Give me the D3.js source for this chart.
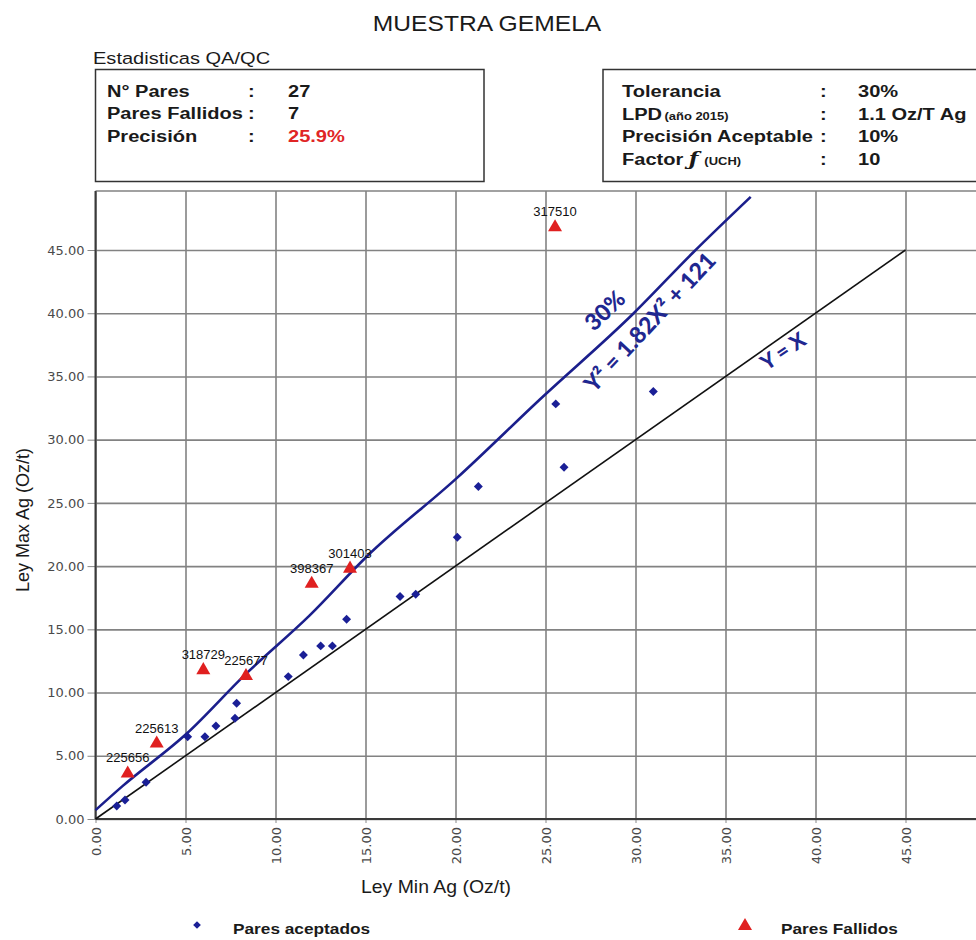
<!DOCTYPE html>
<html>
<head>
<meta charset="utf-8">
<script src="https://cdn.jsdelivr.net/npm/d3@7"></script>
<style>
body { margin: 0; background: #fff; }
svg { display: block; font-family: "Liberation Sans", Arial, sans-serif; }
.axis .tick text { font-family: "DejaVu Sans", sans-serif; font-size: 13px; fill: #4a4a4a; }
.axis .tick line { stroke: #888; }
.grid line { stroke: #828282; stroke-width: 1.6; }
.grid .domain { display: none; }
</style>
</head>
<body>
<div id="chart"></div>
<script>
// pares aceptados (ley min, ley max)
var accMin = [1.18, 1.64, 2.81, 5.12, 6.08, 6.69, 7.75, 7.84, 10.71, 11.55, 12.51, 13.16, 13.95, 16.92, 17.79, 20.10, 21.27, 25.57, 26.03, 30.99];
var accMax = [1.03, 1.50, 2.90, 6.51, 6.51, 7.36, 7.97, 9.15, 11.26, 12.97, 13.69, 13.69, 15.80, 17.59, 17.78, 22.29, 26.29, 32.83, 27.82, 33.81];

// pares fallidos
var failIds = ["225656", "225613", "318729", "225677", "398367", "301403", "317510"];
var failMin = [1.79, 3.40, 5.99, 8.36, 12.01, 14.14, 25.53];
var failMax = [3.60, 5.97, 11.77, 11.31, 18.60, 19.80, 46.80];

// curva de tolerancia 30%
var tolMin = [0, 1.5, 5.1, 8.3, 11.9, 15.1, 20.1, 24.7, 29.9, 33.2, 36.4];
var tolMax = [0.7, 2.6, 6.8, 11.4, 16.1, 20.8, 27.0, 33.2, 40.0, 44.8, 49.2];

// Y = X
var idMin = [0, 45];
var idMax = [0, 45];

var xTicks = [0, 5, 10, 15, 20, 25, 30, 35, 40, 45];
var yTicks = [0, 5, 10, 15, 20, 25, 30, 35, 40, 45];

var statLabels = ["N° Pares", "Pares Fallidos", "Precisión"];
var statValues = ["27", "7", "25.9%"];
var paramValues = ["30%", "1.1 Oz/T Ag", "10%", "10"];

var W = 976, H = 940;
var plotLeft = 95.5, plotRight = 976, plotTop = 191, plotBottom = 819;
var SX = 1.18; // texto de cabecera algo ensanchado

var svg = d3.select("#chart").append("svg")
	.attr("width", W)
	.attr("height", H);

svg.append("rect").attr("width", W).attr("height", H).attr("fill", "#fff");

var x = d3.scaleLinear().domain([0, 45]).range([plotLeft, 905.5]);
var y = d3.scaleLinear().domain([0, 45]).range([plotBottom, 250]);
var fmt = d3.format(".2f");

function hText(g, px, py, str, size, weight, sx){
	return g.append("text")
		.attr("transform", "translate(" + px + "," + py + ") scale(" + sx + ",1)")
		.style("font-size", size + "px")
		.style("font-weight", weight)
		.attr("fill", "#1a1a1a")
		.text(str);
}

// titulo
hText(svg, 487, 31, "MUESTRA GEMELA", 22, "normal", 1.12).attr("text-anchor", "middle");

// cuadro de estadisticas
hText(svg, 93, 64, "Estadisticas QA/QC", 17, "normal", SX);
svg.append("rect")
	.attr("x", 95.5).attr("y", 69.5).attr("width", 388.5).attr("height", 112)
	.attr("fill", "none").attr("stroke", "#333").attr("stroke-width", 1.5);

var statY = [97, 119, 141.5];
statLabels.forEach(function(d, i){
	hText(svg, 107, statY[i], d, 17, "bold", SX);
	hText(svg, 248, statY[i], ":", 17, "bold", SX);
	var t = hText(svg, 288, statY[i], statValues[i], 17, "bold", SX);
	if(i == 2) t.attr("fill", "#e02525");
});

// cuadro de parametros
svg.append("rect")
	.attr("x", 603).attr("y", 69.5).attr("width", 390).attr("height", 112)
	.attr("fill", "none").attr("stroke", "#333").attr("stroke-width", 1.5);

var parY = [97, 119.5, 142, 164.5];
hText(svg, 622, parY[0], "Tolerancia", 17, "bold", SX);
var lpd = hText(svg, 622, parY[1], "LPD", 17, "bold", SX);
lpd.append("tspan").style("font-size", "11px").attr("dx", 2).text("(año 2015)");
hText(svg, 622, parY[2], "Precisión Aceptable", 17, "bold", SX);
var fac = hText(svg, 622, parY[3], "Factor ", 17, "bold", SX);
fac.append("tspan").style("font-family", "'DejaVu Serif', serif").style("font-style", "italic")
	.style("font-size", "19px").text("ƒ");
fac.append("tspan").style("font-size", "11px").attr("dx", 5).text("(UCH)");
paramValues.forEach(function(d, i){
	hText(svg, 820, parY[i], ":", 17, "bold", SX);
	hText(svg, 858, parY[i], d, 17, "bold", SX);
});

// rejilla
svg.append("g")
	.attr("class", "grid")
	.attr("transform", "translate(0," + plotBottom + ")")
	.call(d3.axisBottom(x).tickValues(xTicks).tickSize(-(plotBottom - plotTop)).tickFormat(""));

svg.append("g")
	.attr("class", "grid")
	.attr("transform", "translate(" + plotLeft + ",0)")
	.call(d3.axisLeft(y).tickValues(yTicks).tickSize(-(plotRight - plotLeft)).tickFormat(""));

svg.append("line")
	.attr("x1", plotLeft).attr("x2", plotRight).attr("y1", plotTop).attr("y2", plotTop)
	.attr("stroke", "#828282").attr("stroke-width", 1.6);

// ejes
var gy = svg.append("g")
	.attr("class", "axis")
	.attr("transform", "translate(" + plotLeft + ",0)")
	.call(d3.axisLeft(y).tickValues(yTicks).tickFormat(fmt).tickSize(8).tickPadding(3));
gy.select(".domain").remove();

var gx = svg.append("g")
	.attr("class", "axis")
	.attr("transform", "translate(0," + plotBottom + ")")
	.call(d3.axisBottom(x).tickValues(xTicks).tickFormat(fmt).tickSize(4));
gx.select(".domain").remove();
gx.selectAll(".tick text")
	.attr("transform", "rotate(-90)")
	.attr("text-anchor", "end")
	.attr("x", -8)
	.attr("y", 0)
	.attr("dy", "0.35em");

svg.append("line")
	.attr("x1", plotLeft).attr("x2", plotLeft).attr("y1", plotTop).attr("y2", plotBottom)
	.attr("stroke", "#3a3a3a").attr("stroke-width", 2);
svg.append("line")
	.attr("x1", plotLeft).attr("x2", plotRight).attr("y1", plotBottom).attr("y2", plotBottom)
	.attr("stroke", "#3a3a3a").attr("stroke-width", 2);

// titulos de ejes
svg.append("text")
	.attr("transform", "translate(29,520) rotate(-90)")
	.attr("text-anchor", "middle")
	.style("font-size", "18px")
	.attr("fill", "#1a1a1a")
	.text("Ley Max Ag (Oz/t)");
hText(svg, 436, 893, "Ley Min Ag (Oz/t)", 18, "normal", 1.08).attr("text-anchor", "middle");

// lineas
var line = d3.line()
	.x(function(d){ return x(d[0]); })
	.y(function(d){ return y(d[1]); });

svg.append("path")
	.datum(idMin.map(function(d, i){ return [d, idMax[i]]; }))
	.attr("d", line)
	.attr("fill", "none")
	.attr("stroke", "#111")
	.attr("stroke-width", 1.6);

svg.append("path")
	.datum(tolMin.map(function(d, i){ return [d, tolMax[i]]; }))
	.attr("d", line.curve(d3.curveMonotoneX))
	.attr("fill", "none")
	.attr("stroke", "#1b1f8c")
	.attr("stroke-width", 2.6);

// anotaciones
var annoColor = "#1f2790";
function anno(str, dx, dy, angle, size){
	svg.append("text")
		.attr("transform", "translate(" + x(dx) + "," + y(dy) + ") rotate(" + angle + ")")
		.attr("text-anchor", "middle")
		.attr("dy", "0.35em")
		.style("font-family", "Lato, 'Open Sans', sans-serif")
		.style("font-weight", "900")
		.style("font-size", size + "px")
		.attr("fill", annoColor)
		.text(str);
}
anno("30%", 28.3, 40.2, -44, 23);
anno("Y² = 1.82X² + 121", 30.8, 39.3, -47, 23);
anno("Y = X", 38.2, 37.0, -34, 21);

// puntos aceptados
var diamond = d3.symbol().type(d3.symbolSquare).size(40);
svg.append("g").selectAll("path")
	.data(accMin)
	.enter().append("path")
	.attr("d", diamond)
	.attr("transform", function(d, i){ return "translate(" + x(d) + "," + y(accMax[i]) + ") rotate(45)"; })
	.attr("fill", "#1a1f96");

// pares fallidos
var tri = d3.symbol().type(d3.symbolTriangle).size(85);
var fail = svg.append("g").selectAll("g")
	.data(failIds)
	.enter().append("g")
	.attr("transform", function(d, i){ return "translate(" + x(failMin[i]) + "," + y(failMax[i]) + ")"; });
fail.append("path")
	.attr("d", tri)
	.attr("fill", "#e02020");
fail.append("text")
	.attr("text-anchor", "middle")
	.attr("y", -11)
	.style("font-size", "13px")
	.attr("fill", "#111")
	.text(function(d){ return d; });

// leyenda
svg.append("path")
	.attr("d", d3.symbol().type(d3.symbolSquare).size(30))
	.attr("transform", "translate(197,925) rotate(45)")
	.attr("fill", "#1a1f96");
hText(svg, 233, 934, "Pares aceptados", 15, "bold", 1.15);
svg.append("path")
	.attr("d", tri)
	.attr("transform", "translate(745,926)")
	.attr("fill", "#e02020");
hText(svg, 781, 934, "Pares Fallidos", 15, "bold", 1.15);
</script>
</body>
</html>
